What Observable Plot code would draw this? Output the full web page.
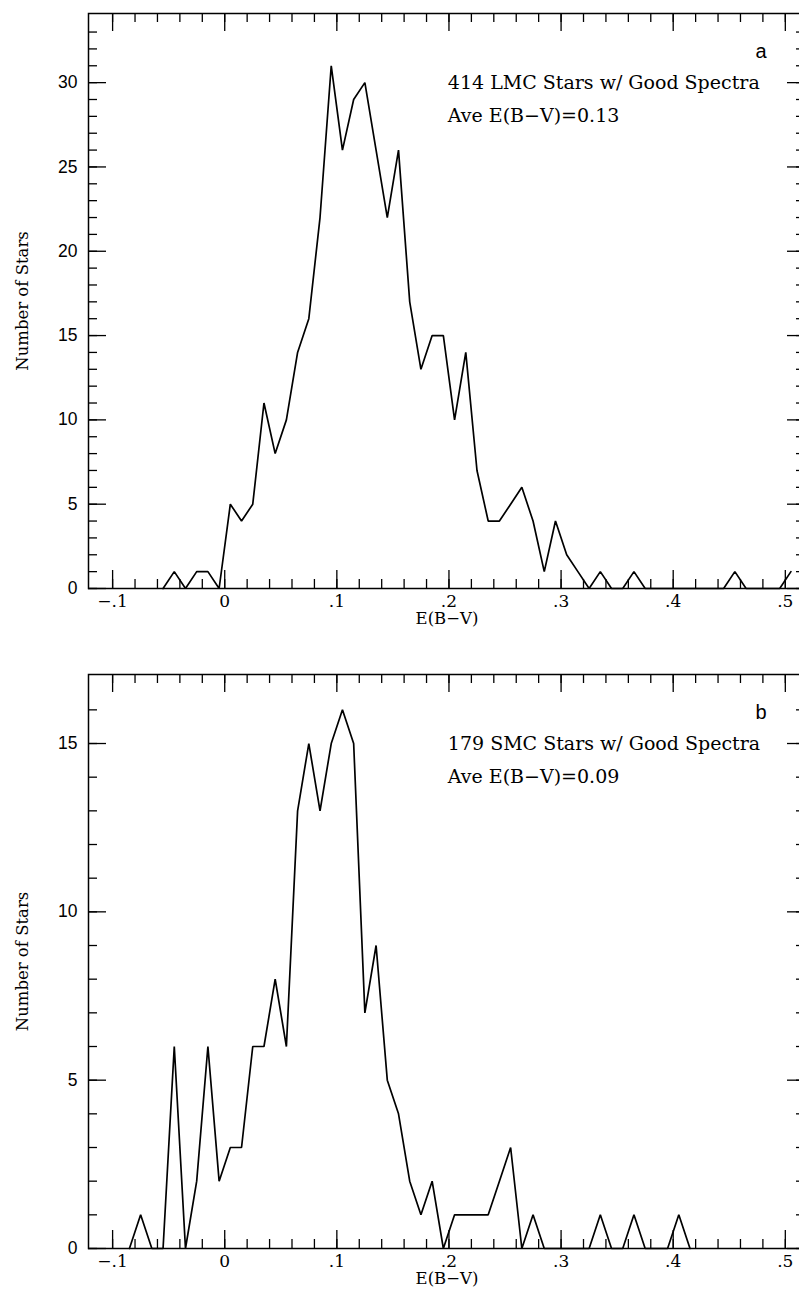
<!DOCTYPE html>
<html><head><meta charset="utf-8">
<script src="https://cdn.jsdelivr.net/npm/d3@7"></script>
<script src="https://cdn.jsdelivr.net/npm/@observablehq/plot@0.6"></script>
<style>
html,body{margin:0;padding:0;background:#fff;overflow:hidden;}
#chart svg{display:block;max-width:none;overflow:hidden;}
</style></head>
<body><div id="chart"></div>
<script>
// ---- data ----
const lmcEBV = [-0.055,-0.045,-0.035,-0.025,-0.015,-0.005,0.005,0.015,0.025,0.035,0.045,0.055,0.065,0.075,0.085,0.095,0.105,0.115,0.125,0.135,0.145,0.155,0.165,0.175,0.185,0.195,0.205,0.215,0.225,0.235,0.245,0.255,0.265,0.275,0.285,0.295,0.305,0.315,0.325,0.335,0.345,0.355,0.365,0.375,0.385,0.395,0.405,0.415,0.425,0.435,0.445,0.455,0.465,0.475,0.485,0.495,0.505];
const lmcCount = [0,1,0,1,1,0,5,4,5,11,8,10,14,16,22,31,26,29,30,26,22,26,17,13,15,15,10,14,7,4,4,5,6,4,1,4,2,1,0,1,0,0,1,0,0,0,0,0,0,0,0,1,0,0,0,0,1];

const smcEBV = [-0.085,-0.075,-0.065,-0.055,-0.045,-0.035,-0.025,-0.015,-0.005,0.005,0.015,0.025,0.035,0.045,0.055,0.065,0.075,0.085,0.095,0.105,0.115,0.125,0.135,0.145,0.155,0.165,0.175,0.185,0.195,0.205,0.215,0.225,0.235,0.245,0.255,0.265,0.275,0.285,0.295,0.305,0.315,0.325,0.335,0.345,0.355,0.365,0.375,0.385,0.395,0.405,0.415];
const smcCount = [0,1,0,0,6,0,2,6,2,3,3,6,6,8,6,13,15,13,15,16,15,7,9,5,4,2,1,2,0,1,1,1,1,2,3,0,1,0,0,0,0,0,1,0,0,1,0,0,0,1,0];

const xMajor = [-0.1, 0, 0.1, 0.2, 0.3, 0.4, 0.5];
const xMajorLabels = ["\u2212.1", "0", ".1", ".2", ".3", ".4", ".5"];
const xMinor = [-0.1,-0.08,-0.06,-0.04,-0.02,0,0.02,0.04,0.06,0.08,0.1,0.12,0.14,0.16,0.18,0.2,0.22,0.24,0.26,0.28,0.3,0.32,0.34,0.36,0.38,0.4,0.42,0.44,0.46,0.48,0.5];

const lmcYMajor = [0, 5, 10, 15, 20, 25, 30];
const smcYMajor = [0, 5, 10, 15];

const lmcNotes = ["414 LMC Stars w/ Good Spectra", "Ave E(B\u2212V)=0.13"];
const lmcNoteY = [30, 28];
const smcNotes = ["179 SMC Stars w/ Good Spectra", "Ave E(B\u2212V)=0.09"];
const smcNoteY = [15, 14];
const noteX = 0.199;

const xLabel = "E(B\u2212V)";
const yLabel = "Number of Stars";

// ---- drawing ----
const SERIF = "DejaVu Serif";
const SANS = "Liberation Sans";
const ML = 88, MR = -6, WIDTH = 799;
const X0 = -0.1215, X1 = 0.518;
const FW = WIDTH - MR - ML;
const pxPerX = FW / (X1 - X0);

function panel({xs, ys, yMax, yMajor, notes, noteY, tag, height, marginTop, marginBottom}) {
  const FH = height - marginTop - marginBottom;
  const yMinor = d3.range(0, Math.floor(yMax - 0.2) + 1);
  const data = xs.map((x, i) => ({x, y: ys[i]}));
  const tk = {stroke: "black", strokeWidth: 1.3};
  return Plot.plot({
    width: WIDTH, height, marginLeft: ML, marginRight: MR, marginTop, marginBottom,
    x: {domain: [X0, X1], axis: null},
    y: {domain: [0, yMax], axis: null},
    style: {background: "white"},
    marks: [
      // ticks, bottom & top
      Plot.tickX(xMinor, {x: d => d, insetTop: FH - 9, ...tk}),
      Plot.tickX(xMajor, {x: d => d, insetTop: FH - 18, ...tk}),
      Plot.tickX(xMinor, {x: d => d, insetBottom: FH - 9, ...tk}),
      Plot.tickX(xMajor, {x: d => d, insetBottom: FH - 18, ...tk}),
      // ticks, left & right
      Plot.tickY(yMinor, {y: d => d, insetRight: FW - 9, ...tk}),
      Plot.tickY(yMajor, {y: d => d, insetRight: FW - 18, ...tk}),
      Plot.tickY(yMinor, {y: d => d, insetLeft: FW - 9, ...tk}),
      Plot.tickY(yMajor, {y: d => d, insetLeft: FW - 18, ...tk}),
      Plot.frame({stroke: "black", strokeWidth: 1.5}),
      // tick labels
      Plot.text(xMajor, {x: d => d, frameAnchor: "bottom", dy: 18, text: (d, i) => xMajorLabels[i],
        fontFamily: SERIF, fontSize: 17, fill: "black"}),
      Plot.text(yMajor, {y: d => d, frameAnchor: "left", dx: -11, textAnchor: "end", text: d => String(d),
        fontFamily: SANS, fontSize: 17.5, fill: "black"}),
      // axis labels
      Plot.text([xLabel], {frameAnchor: "bottom", dy: 35, text: d => d, fontFamily: SERIF, fontSize: 16.5, fill: "black"}),
      Plot.text([yLabel], {x: () => X0 - 66 / pxPerX, y: () => yMax / 2, rotate: -90, text: d => d,
        fontFamily: SERIF, fontSize: 16.5, fill: "black"}),
      // data
      Plot.line(data, {x: "x", y: "y", stroke: "black", strokeWidth: 1.7, strokeLinejoin: "miter"}),
      // annotations
      Plot.text(notes, {x: () => noteX, y: (d, i) => noteY[i], text: d => d, textAnchor: "start",
        fontFamily: SERIF, fontSize: 19, fill: "black"}),
      Plot.text([tag], {frameAnchor: "top-right", dx: -39, dy: 30, text: d => d, fontFamily: SANS, fontSize: 20, fill: "black"})
    ]
  });
}

const chart = document.getElementById("chart");
chart.append(panel({xs: lmcEBV, ys: lmcCount, yMax: 34.1, yMajor: lmcYMajor, notes: lmcNotes, noteY: lmcNoteY, tag: "a",
  height: 640, marginTop: 13, marginBottom: 52}));
chart.append(panel({xs: smcEBV, ys: smcCount, yMax: 17.05, yMajor: smcYMajor, notes: smcNotes, noteY: smcNoteY, tag: "b",
  height: 652, marginTop: 34, marginBottom: 44}));
</script>
</body></html>
